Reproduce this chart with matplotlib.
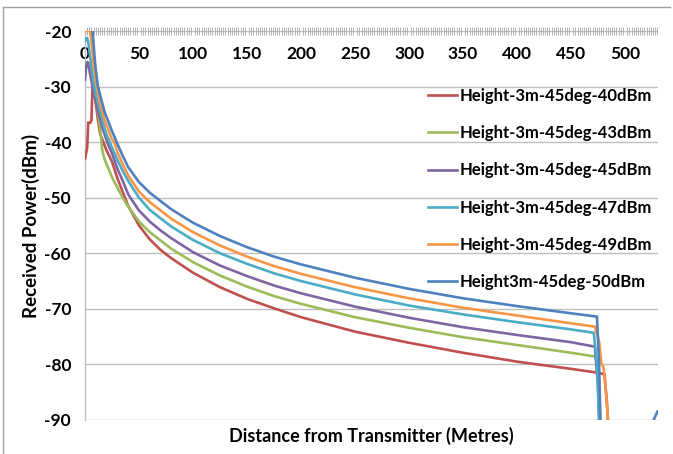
import matplotlib
matplotlib.use("Agg")
import matplotlib.pyplot as plt
from matplotlib.ticker import MultipleLocator
from matplotlib.lines import Line2D

plt.rcParams['font.family'] = ['Lato', 'DejaVu Sans']
plt.rcParams['axes.unicode_minus'] = False

# ---- data ----
labels = ["Height-3m-45deg-40dBm", "Height-3m-45deg-43dBm", "Height-3m-45deg-45dBm",
          "Height-3m-45deg-47dBm", "Height-3m-45deg-49dBm", "Height3m-45deg-50dBm"]
colors = ["#C0504D", "#9BBB59", "#8064A2", "#4BACC6", "#F79646", "#4F81BD"]

x_40 = [0, 1, 2, 3, 5, 6, 7, 8, 9, 10, 12, 14, 16, 18, 20, 22, 25, 30, 35, 40, 50, 60, 70, 80,
        100, 125, 150, 175, 200, 250, 300, 350, 400, 450, 475, 481, 483, 486]
y_40 = [-43, -42, -41, -36.5, -36.5, -36, -29.5, -29, -31, -33, -36, -38.5, -39.5, -40.5, -41.5,
        -42.3, -43.5, -46.5, -49, -51.5, -55, -57.5, -59.4, -60.9,
        -63.5, -66.1, -68.2, -69.9, -71.5, -74.1, -76.1, -77.9, -79.5, -80.8, -81.5, -81.8, -86.4, -96]

x_43 = [0, 2, 4, 5, 6, 7, 8, 9, 10, 12, 14, 16, 18, 20, 25, 30, 35, 40, 50, 60, 70, 80,
        100, 125, 150, 175, 200, 250, 300, 350, 400, 450, 473, 476, 478]
y_43 = [-26, -25.8, -25.8, -26.5, -27.5, -28.5, -29.5, -30.3, -31.5, -34.6, -37.5, -41.5, -43, -44,
        -46.3, -48.2, -50, -51.6, -54.3, -56.2, -57.7, -59.2,
        -61.6, -64, -66, -67.7, -69.1, -71.5, -73.4, -75.1, -76.5, -77.9, -78.6, -85, -96]

x_45 = [0, 1, 2, 3, 4, 5, 6, 7, 8, 10, 12, 14, 16, 18, 20, 22, 25, 30, 35, 40, 50, 60, 70, 80,
        100, 125, 150, 175, 200, 250, 300, 350, 400, 450, 472, 475, 477]
y_45 = [-28.8, -26.5, -25.5, -26, -27, -28, -29, -30, -31, -32.8, -34.3, -35.8, -37.3, -38.5, -39.7,
        -40.7, -42, -44.8, -47, -49.4, -52.3, -54.3, -55.9, -57.3,
        -59.8, -62.2, -64.1, -65.8, -67.2, -69.6, -71.6, -73.3, -74.7, -76, -76.8, -84, -96]

x_47 = [0, 1, 2, 3, 4, 5, 6, 7, 8, 9, 10, 12, 14, 16, 18, 20, 23, 25, 30, 35, 40, 50, 60, 70, 80,
        100, 125, 150, 175, 200, 250, 300, 350, 400, 450, 471, 474, 476, 477]
y_47 = [-21.8, -21.3, -21.3, -22, -23.5, -25, -26.5, -28, -29.5, -30.5, -31.5, -33, -34.5, -36, -37.5,
        -38.7, -40, -41, -43.2, -45.2, -47, -50, -52.2, -53.7, -55.2,
        -57.6, -60, -61.9, -63.6, -65, -67.4, -69.4, -71, -72.4, -73.7, -74.3, -80, -90, -96]

x_49 = [0, 2, 4, 5, 6, 7, 8, 10, 11, 12, 14, 16, 18, 20, 22, 25, 27, 30, 35, 40, 50, 60, 70, 80,
        100, 125, 150, 175, 200, 250, 300, 350, 400, 450, 472, 476, 478, 480, 483, 486]
y_49 = [-20, -20, -20, -20, -22, -24, -26, -29, -30, -31, -33, -34.5, -36, -37, -38, -39.5, -40,
        -41.8, -44, -46, -48.9, -50.8, -52.3, -53.8,
        -56.2, -58.6, -60.6, -62.3, -63.7, -66.1, -68.1, -69.8, -71.2, -72.6, -73.2, -75.9, -79.7,
        -80.5, -86.4, -95]

x_50 = [0, 2, 4, 6, 7, 8, 9, 10, 12, 14, 16, 18, 20, 22, 25, 30, 35, 40, 50, 60, 70, 80,
        100, 125, 150, 175, 200, 250, 300, 350, 400, 450, 474, 476, 478, 520, 524, 530]
y_50 = [-16, -16, -16, -16, -20, -22.5, -25, -27, -30, -31.5, -33, -34.5, -35.5, -36.5, -38, -40.3,
        -42.5, -44.5, -47.2, -49.1, -50.6, -52.1,
        -54.5, -56.9, -58.9, -60.6, -62, -64.4, -66.4, -68.1, -69.5, -70.8, -71.4, -80, -97,
        -97, -91, -88.5]

series_x = [x_40, x_43, x_45, x_47, x_49, x_50]
series_y = [y_40, y_43, y_45, y_47, y_49, y_50]

y_ticks = [-90, -80, -70, -60, -50, -40, -30, -20]
x_ticks = [0, 50, 100, 150, 200, 250, 300, 350, 400, 450, 500]

# ---- figure ----
fig = plt.figure(figsize=(6.73, 4.54), dpi=100)
ax = fig.add_axes([85 / 673, 1 - 420 / 454, (658 - 85) / 673, (420 - 31) / 454])

grid_c = "#BFBFBF"
for yv in y_ticks:
    ax.axhline(yv, color=grid_c, lw=1.0, zorder=1)

for xs, ys, c, lab in zip(series_x, series_y, colors, labels):
    ax.plot(xs, ys, color=c, lw=1.9, label=lab, zorder=3, solid_joinstyle='miter')

ax.set_xlim(0, 530.5)
ax.set_ylim(-90, -20)

for s in ['right', 'bottom', 'top']:
    ax.spines[s].set_visible(False)
ax.spines['left'].set_color(grid_c)
ax.spines['left'].set_linewidth(1.0)

ax.set_yticks(y_ticks)
ax.tick_params(axis='y', length=0, pad=10, labelsize=12.5)
for t in ax.get_yticklabels():
    t.set_fontweight('bold')

ax.xaxis.set_ticks_position('top')
ax.set_xticks(x_ticks)
ax.xaxis.set_minor_locator(MultipleLocator(2))
ax.tick_params(axis='x', which='major', length=0, pad=-22, labelsize=12.5,
               labeltop=True, labelbottom=False)
ax.tick_params(axis='x', which='minor', length=6, width=0.6, color="#A6A6A6",
               direction='inout', top=True, bottom=False)
for t in ax.get_xticklabels():
    t.set_fontweight('bold')

ax.set_ylabel("Received Power(dBm)", fontsize=13.5, fontweight='bold', labelpad=3)
ax.xaxis.set_label_position('bottom')
ax.set_xlabel("Distance from Transmitter (Metres)", fontsize=13, fontweight='bold', labelpad=5)

leg = ax.legend(loc='upper left', bbox_to_anchor=((428 - 85) / 573, 1 - (88 - 31) / 389),
                frameon=False, fontsize=12, handlelength=1.75, handletextpad=0.15,
                labelspacing=1.27, borderaxespad=0, borderpad=0)
for t in leg.get_texts():
    t.set_fontweight('bold')

# outer border
fig.add_artist(Line2D([3 / 673, 3 / 673], [0, 1 - 7 / 454], color="#A0A0A0", lw=1.0,
                      transform=fig.transFigure))
fig.add_artist(Line2D([3 / 673, 670 / 673], [1 - 7 / 454, 1 - 7 / 454], color="#A0A0A0", lw=1.0,
                      transform=fig.transFigure))

fig.savefig("out.png", dpi=100)
